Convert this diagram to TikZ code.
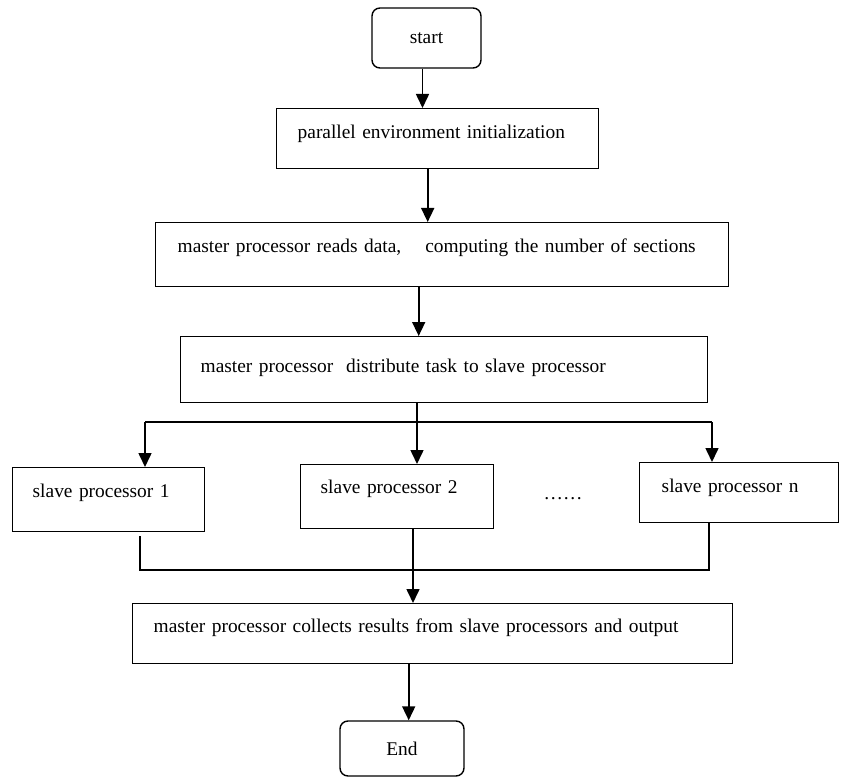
\documentclass[tikz,border=0pt]{standalone}
\usepackage{fontspec}
\setmainfont{Liberation Serif}
\usetikzlibrary{
    positioning,   % Relative positioning
    arrows.meta,   % Modern arrow tips
    calc           % Coordinate calculations
}
\tikzset{
    box/.style={draw, rectangle, line width=1.4pt, anchor=north west,
        align=left, inner ysep=0pt, font=\fontsize{19.4}{24}\selectfont},
    term/.style={draw, rectangle, rounded corners=8pt, line width=1.4pt,
        font=\fontsize{19.4}{24}\selectfont},
    flow/.style={line width=1.6pt, -{Triangle[length=14pt,width=13pt]}},
    wire/.style={line width=1.4pt}
}
\begin{document}
\begin{tikzpicture}[x=1pt,y=-1pt]
    \useasboundingbox (0,0) rectangle (841,778);
    % steps
    \node[term, minimum width=109pt, minimum height=60pt] (start) at (426.5,38) {start};
    \node[box, inner xsep=21pt, text width=280pt, text height=30pt, text depth=30pt] (init) at (276,108) {\mbox{parallel environment initialization}};
    \node[box, inner xsep=22pt, text width=529pt, text height=30pt, text depth=34pt] (reads) at (155,222) {\mbox{master processor reads data,\hspace*{24pt}computing the number of sections}};
    \node[box, inner xsep=20pt, text width=487pt, text height=36pt, text depth=30pt] (dist) at (180,336) {\mbox{master processor\ \ distribute task to slave processor}};
    \node[box, inner xsep=20pt, text width=152pt, text height=30pt, text depth=34pt] (s1) at (12,467) {\mbox{slave processor 1}};
    \node[box, inner xsep=20pt, text width=153pt, text height=29pt, text depth=35pt] (s2) at (300,464) {\mbox{slave processor 2}};
    \node[box, inner xsep=22pt, text width=155pt, text height=30pt, text depth=30pt] (sn) at (639,462) {\mbox{slave processor n}};
    \node[anchor=base, font=\fontsize{19.4}{24}\selectfont] (dots) at (563,499) {……};
    \node[box, inner xsep=21pt, text width=558pt, text height=29pt, text depth=31pt] (collect) at (132,603) {\mbox{master processor collects results from slave processors and output}};
    \node[term, minimum width=124pt, minimum height=55pt] (stop) at (402,748.5) {End};
    % straight flow
    \draw[flow] ([xshift=-4pt]start.south) -- ([xshift=-4pt]start.south |- init.north);
    \draw[flow] ([xshift=-10pt]init.south) -- ([xshift=-10pt]init.south |- reads.north);
    \draw[flow] ([xshift=-23.5pt]reads.south) -- ([xshift=-23.5pt]reads.south |- dist.north);
    % fork to the slaves
    \coordinate (fork) at (417,422);
    \coordinate (forkL) at (145,422);
    \coordinate (forkR) at (712,422);
    \draw[wire] (fork |- dist.south) -- (fork);
    \draw[wire] (forkL) -- (forkR);
    \draw[flow] (forkL) -- (forkL |- s1.north);
    \draw[flow] (fork) -- (fork |- s2.north);
    \draw[flow] (forkR) -- (forkR |- sn.north);
    % join back
    \coordinate (joinL) at (140,570);
    \coordinate (joinM) at (413,570);
    \coordinate (joinR) at (709,570);
    \draw[wire] ([yshift=-4pt]joinL |- s1.south) -- (joinL) -- (joinR) -- (joinR |- sn.south);
    \draw[flow] (joinM |- s2.south) -- (joinM |- collect.north);
    \draw[flow] ([xshift=-24pt]collect.south) -- ([xshift=-24pt]collect.south |- stop.north);
\end{tikzpicture}
\end{document}
